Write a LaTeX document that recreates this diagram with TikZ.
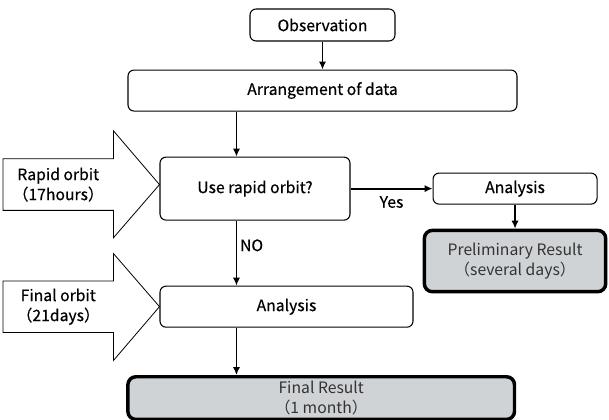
\documentclass[tikz,border=0pt]{standalone}
\usepackage{fontspec}
\setmainfont{Noto Sans CJK JP}[FakeBold=0.5]
\newfontfamily\plainfont{Noto Sans CJK JP}
\usetikzlibrary{arrows.meta, positioning}
\definecolor{resultgray}{RGB}{208,211,214}
\definecolor{resulttext}{RGB}{51,51,51}

\begin{document}
\begin{tikzpicture}[font=\fontsize{11.8}{15}\selectfont,
    stepbox/.style={draw, rounded corners=4.5pt, line width=0.8pt, minimum height=24pt, align=center},
    resultbox/.style={draw, rounded corners=6pt, line width=2.6pt, fill=resultgray, text=resulttext, font=\plainfont\fontsize{11.8}{15}\selectfont, inner sep=2pt, align=center},
    orbit/.style={minimum width=82.5pt, minimum height=38.25pt, inner sep=0pt, align=center},
    flow/.style={-{Latex[length=6pt,width=5.5pt]}, line width=1.4pt},
    lbl/.style={inner sep=2pt}]
        \useasboundingbox (-241.9pt,-296.25pt) rectangle (214.9pt,18.75pt);

        \node[stepbox, minimum width=108.75pt] (obs) {Observation};
        \node[stepbox, minimum width=291.75pt, minimum height=30.75pt, below=21pt of obs] (arr) {Arrangement of data};
        \node[stepbox, minimum width=142.5pt, minimum height=47.25pt, below right=33.75pt and 24pt of arr.south west] (use) {Use rapid orbit?};
        \node[stepbox, minimum width=123pt, minimum height=23.25pt, right=61.5pt of use] (fast) {Analysis};
        \node[resultbox, minimum width=136pt, minimum height=46pt, below=18pt of fast] (prelim) {Preliminary Result\\（several days）};
        \node[stepbox, minimum width=189.75pt, minimum height=30.75pt, below right=48.75pt and 0pt of use.south west] (slow) {Analysis};
        \node[resultbox, minimum width=290pt, minimum height=32pt, below right=35.5pt and -25pt of slow.south west] (final) {Final Result\\（1 month）};

        % input orbits
        \node[orbit, left=34.5pt of use, yshift=3pt] (rapid) {Rapid orbit\\（17hours）};
        \node[orbit, left=34.5pt of slow] (finorb) {Final orbit\\（21days）};
        \draw[line width=0.6pt] (rapid.north west) -- (rapid.north east) -- ++(0,21pt) -- (use.west |- rapid)
            -- ([yshift=-20.5pt]rapid.south east) -- (rapid.south east) -- (rapid.south west) -- cycle;
        \draw[line width=0.6pt] (finorb.north west) -- (finorb.north east) -- ++(0,20.5pt) -- (slow.west |- finorb)
            -- ([yshift=-21pt]finorb.south east) -- (finorb.south east) -- (finorb.south west) -- cycle;

        \coordinate (spine) at ([xshift=57.75pt]use.north west);
        \draw[flow] (obs.south) -- (obs.south |- arr.north);
        \draw[flow] (arr.south -| spine) -- (use.north -| spine);
        \draw[flow] (use.south -| spine) -- node[lbl, right, pos=0.38] (no) {NO} (slow.north -| spine);
        \draw[flow] (slow.south -| spine) -- (final.north -| spine);
        \draw[flow] (use) -- node[lbl, below=3pt] (yes) {Yes} (fast);
        \draw[flow] (fast.south) -- (fast.south |- prelim.north);
    \end{tikzpicture}
\end{document}
